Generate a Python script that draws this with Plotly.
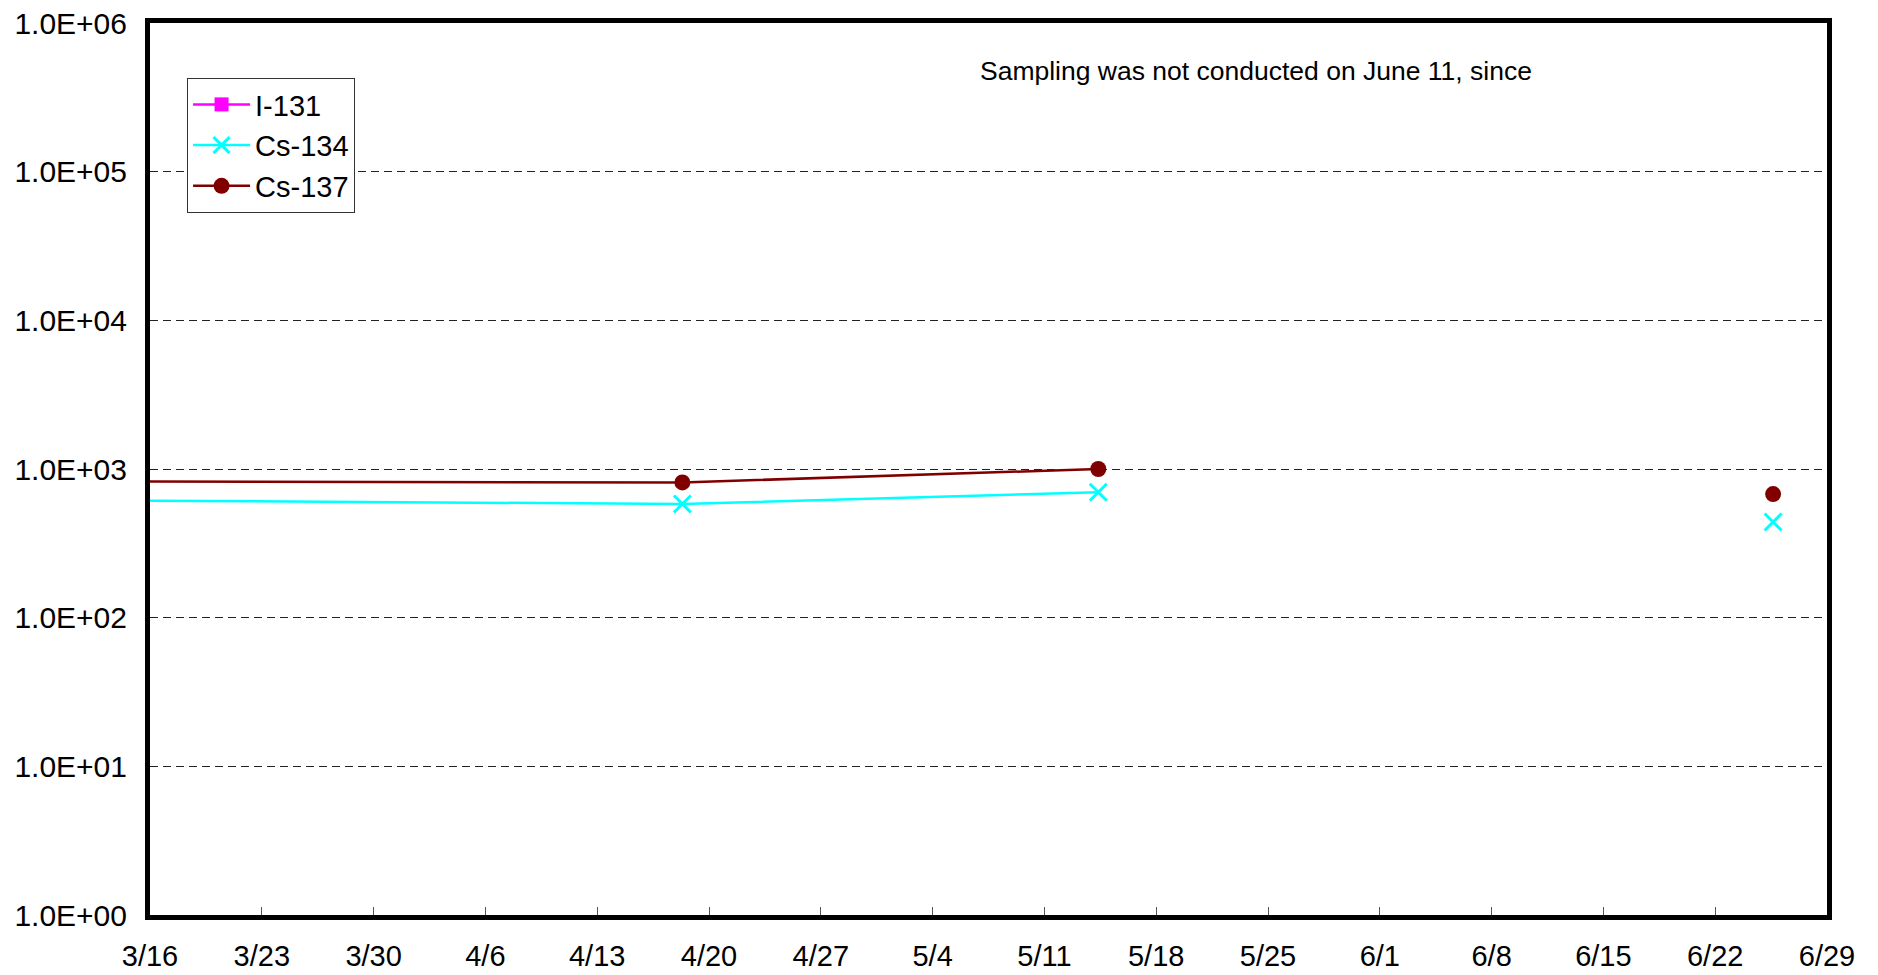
import plotly.graph_objects as go

# ---- data ----
dates = ["2011-03-09", "2011-04-18 08:00", "2011-05-14 09:00", "2011-06-11", "2011-06-25 15:00"]
i131 = [None, None, None, None, None]
cs134 = [619, 582, 698, None, 440]
cs137 = [825, 812, 1000, None, 678]

y_tickvals = [1, 10, 100, 1000, 10000, 100000, 1000000]
y_ticktext = ["1.0E+00", "1.0E+01", "1.0E+02", "1.0E+03", "1.0E+04", "1.0E+05", "1.0E+06"]
note = "Sampling was not conducted on June 11, since"

FONT = "Liberation Sans, Arial, sans-serif"

fig = go.Figure()
fig.add_trace(go.Scatter(
    x=dates, y=i131, name="I-131", mode="lines+markers",
    line=dict(color="#FF00FF", width=2.5),
    marker=dict(symbol="square", size=14, color="#FF00FF"),
))
fig.add_trace(go.Scatter(
    x=dates, y=cs134, name="Cs-134", mode="lines+markers",
    line=dict(color="#00FFFF", width=2.5),
    marker=dict(symbol="x-thin", size=17, color="#00FFFF",
                line=dict(color="#00FFFF", width=3)),
    connectgaps=False,
))
fig.add_trace(go.Scatter(
    x=dates, y=cs137, name="Cs-137", mode="lines+markers",
    line=dict(color="#800000", width=2.5),
    marker=dict(symbol="circle", size=16, color="#800000"),
    connectgaps=False,
))

fig.update_layout(
    width=1862, height=975,
    margin=dict(l=141.6, r=43, t=14.6, b=68, autoexpand=False),
    paper_bgcolor="white", plot_bgcolor="white",
    font=dict(family=FONT, size=29, color="black"),
    showlegend=True,
    legend=dict(
        x=0.0221, y=0.9383, xanchor="left", yanchor="top",
        bgcolor="white", bordercolor="#333333", borderwidth=1,
        font=dict(family=FONT, size=29, color="black"),
        traceorder="normal", itemwidth=57,
    ),
    xaxis=dict(
        type="date",
        range=["2011-03-16", "2011-06-29"],
        tick0="2011-03-16", dtick=7 * 86400000,
        tickformat="%-m/%-d",
        ticks="inside", ticklen=8, tickwidth=1, tickcolor="#555555",
        showgrid=False, zeroline=False, automargin=False,
        showline=True, linecolor="black", linewidth=5, mirror=True,
        ticklabelstandoff=11, ticklabeloverflow="allow",
        tickfont=dict(family=FONT, size=29, color="black"),
    ),
    yaxis=dict(
        type="log",
        range=[0, 6],
        tickvals=y_tickvals, ticktext=y_ticktext,
        ticks="", automargin=False,
        showgrid=True, gridcolor="#222222", gridwidth=1, griddash="8px,5px",
        zeroline=False,
        showline=True, linecolor="black", linewidth=5, mirror=True,
        ticklabelstandoff=12, ticklabeloverflow="allow",
        tickfont=dict(family=FONT, size=30, color="black"),
    ),
    annotations=[dict(
        text=note, xref="paper", yref="paper", x=0.6593, y=0.9464,
        xanchor="center", yanchor="middle", showarrow=False,
        font=dict(family=FONT, size=26.5, color="black"),
    )],
)

fig.write_html("out.html")
